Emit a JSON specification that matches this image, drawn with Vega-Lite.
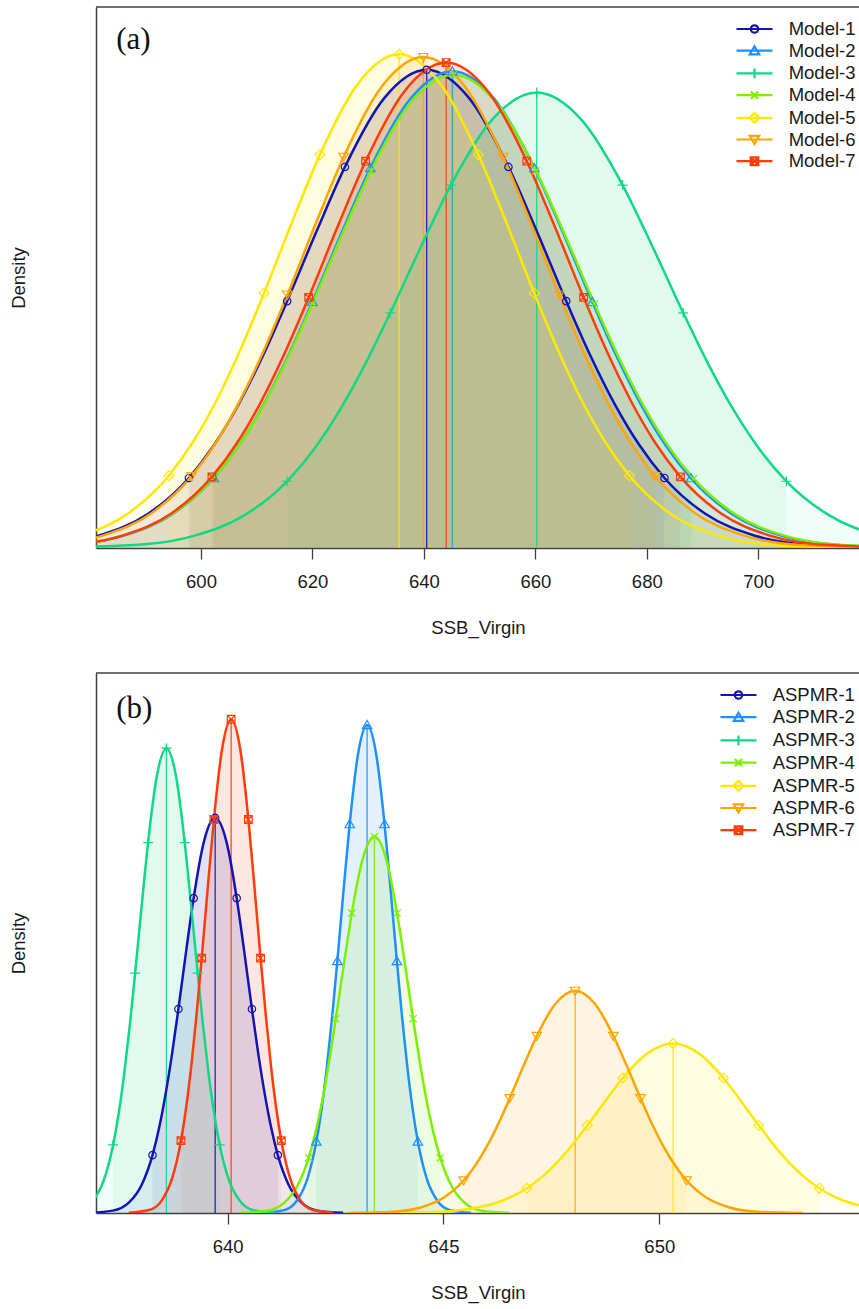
{
"$schema": "https://vega.github.io/schema/vega-lite/v6.json",
"padding": {"left": 9, "top": 6, "right": 0, "bottom": 5},
"config": {
  "view": {"stroke": null},
  "font": "Liberation Sans",
  "axis": {"labelFont": "Liberation Sans", "titleFont": "Liberation Sans", "labelFontSize": 18.5, "titleFontSize": 18.5, "titleFontWeight": "normal", "labelColor": "#1a1a1a", "titleColor": "#1a1a1a", "domainColor": "#404040", "domainWidth": 1.5, "tickColor": "#404040", "tickWidth": 1.3, "grid": false}
},
"datasets": {
"a": [
{"s":"Model-1","z":-4,"x":553.42,"y":0.0000061},{"s":"Model-1","z":-3.2,"x":570.84,"y":0.0001095},{"s":"Model-1","z":-2.7,"x":581.72,"y":0.000479},{"s":"Model-1","z":-2.3,"x":590.43,"y":0.001301},{"s":"Model-1","z":-1.96,"x":597.83,"y":0.002684},{"s":"Model-1","z":-1.75,"x":602.40,"y":0.003963},{"s":"Model-1","z":-1.55,"x":606.76,"y":0.005513},{"s":"Model-1","z":-1.35,"x":611.11,"y":0.007367},{"s":"Model-1","z":-1.15,"x":615.46,"y":0.009459},{"s":"Model-1","z":-0.9,"x":620.91,"y":0.012222},{"s":"Model-1","z":-0.674,"x":625.83,"y":0.014601},{"s":"Model-1","z":-0.35,"x":632.88,"y":0.017236},{"s":"Model-1","z":0,"x":640.5,"y":0.018325},{"s":"Model-1","z":0.35,"x":648.12,"y":0.017236},{"s":"Model-1","z":0.674,"x":655.17,"y":0.014601},{"s":"Model-1","z":0.9,"x":660.09,"y":0.012222},{"s":"Model-1","z":1.15,"x":665.54,"y":0.009459},{"s":"Model-1","z":1.35,"x":669.89,"y":0.007367},{"s":"Model-1","z":1.55,"x":674.24,"y":0.005513},{"s":"Model-1","z":1.75,"x":678.60,"y":0.003963},{"s":"Model-1","z":1.96,"x":683.17,"y":0.002684},{"s":"Model-1","z":2.3,"x":690.57,"y":0.001301},{"s":"Model-1","z":2.7,"x":699.28,"y":0.000479},{"s":"Model-1","z":3.2,"x":710.16,"y":0.0001095},{"s":"Model-1","z":4,"x":727.58,"y":0.0000061},
{"s":"Model-2","z":-4,"x":557.74,"y":0.0000061},{"s":"Model-2","z":-3.2,"x":575.21,"y":0.0001092},{"s":"Model-2","z":-2.7,"x":586.13,"y":0.000477},{"s":"Model-2","z":-2.3,"x":594.87,"y":0.001297},{"s":"Model-2","z":-1.96,"x":602.29,"y":0.002676},{"s":"Model-2","z":-1.75,"x":606.88,"y":0.003951},{"s":"Model-2","z":-1.55,"x":611.25,"y":0.005495},{"s":"Model-2","z":-1.35,"x":615.62,"y":0.007344},{"s":"Model-2","z":-1.15,"x":619.98,"y":0.009429},{"s":"Model-2","z":-0.9,"x":625.44,"y":0.012184},{"s":"Model-2","z":-0.674,"x":630.38,"y":0.014555},{"s":"Model-2","z":-0.35,"x":637.46,"y":0.017182},{"s":"Model-2","z":0,"x":645.1,"y":0.018267},{"s":"Model-2","z":0.35,"x":652.74,"y":0.017182},{"s":"Model-2","z":0.674,"x":659.82,"y":0.014555},{"s":"Model-2","z":0.9,"x":664.76,"y":0.012184},{"s":"Model-2","z":1.15,"x":670.22,"y":0.009429},{"s":"Model-2","z":1.35,"x":674.58,"y":0.007344},{"s":"Model-2","z":1.55,"x":678.95,"y":0.005495},{"s":"Model-2","z":1.75,"x":683.32,"y":0.003951},{"s":"Model-2","z":1.96,"x":687.91,"y":0.002676},{"s":"Model-2","z":2.3,"x":695.33,"y":0.001297},{"s":"Model-2","z":2.7,"x":704.07,"y":0.000477},{"s":"Model-2","z":3.2,"x":714.99,"y":0.0001092},{"s":"Model-2","z":4,"x":732.46,"y":0.0000061},
{"s":"Model-3","z":-4,"x":568.81,"y":0.0000059},{"s":"Model-3","z":-3.2,"x":587.10,"y":0.0001043},{"s":"Model-3","z":-2.7,"x":598.53,"y":0.000456},{"s":"Model-3","z":-2.3,"x":607.67,"y":0.001239},{"s":"Model-3","z":-1.96,"x":615.44,"y":0.002557},{"s":"Model-3","z":-1.75,"x":620.24,"y":0.003774},{"s":"Model-3","z":-1.55,"x":624.82,"y":0.005250},{"s":"Model-3","z":-1.35,"x":629.39,"y":0.007016},{"s":"Model-3","z":-1.15,"x":633.96,"y":0.009009},{"s":"Model-3","z":-0.9,"x":639.68,"y":0.011640},{"s":"Model-3","z":-0.674,"x":644.84,"y":0.013906},{"s":"Model-3","z":-0.35,"x":652.25,"y":0.016415},{"s":"Model-3","z":0,"x":660.25,"y":0.017452},{"s":"Model-3","z":0.35,"x":668.25,"y":0.016415},{"s":"Model-3","z":0.674,"x":675.66,"y":0.013906},{"s":"Model-3","z":0.9,"x":680.82,"y":0.011640},{"s":"Model-3","z":1.15,"x":686.54,"y":0.009009},{"s":"Model-3","z":1.35,"x":691.11,"y":0.007016},{"s":"Model-3","z":1.55,"x":695.68,"y":0.005250},{"s":"Model-3","z":1.75,"x":700.26,"y":0.003774},{"s":"Model-3","z":1.96,"x":705.06,"y":0.002557},{"s":"Model-3","z":2.3,"x":712.83,"y":0.001239},{"s":"Model-3","z":2.7,"x":721.97,"y":0.000456},{"s":"Model-3","z":3.2,"x":733.40,"y":0.0001043},{"s":"Model-3","z":4,"x":751.69,"y":0.0000059},
{"s":"Model-4","z":-4,"x":557.3,"y":0.0000061},{"s":"Model-4","z":-3.2,"x":574.9,"y":0.0001084},{"s":"Model-4","z":-2.7,"x":585.9,"y":0.000474},{"s":"Model-4","z":-2.3,"x":594.7,"y":0.001288},{"s":"Model-4","z":-1.96,"x":602.18,"y":0.002656},{"s":"Model-4","z":-1.75,"x":606.8,"y":0.003922},{"s":"Model-4","z":-1.55,"x":611.2,"y":0.005455},{"s":"Model-4","z":-1.35,"x":615.6,"y":0.007290},{"s":"Model-4","z":-1.15,"x":620.0,"y":0.009361},{"s":"Model-4","z":-0.9,"x":625.5,"y":0.012095},{"s":"Model-4","z":-0.674,"x":630.47,"y":0.014449},{"s":"Model-4","z":-0.35,"x":637.6,"y":0.017057},{"s":"Model-4","z":0,"x":645.3,"y":0.018134},{"s":"Model-4","z":0.35,"x":653.0,"y":0.017057},{"s":"Model-4","z":0.674,"x":660.13,"y":0.014449},{"s":"Model-4","z":0.9,"x":665.1,"y":0.012095},{"s":"Model-4","z":1.15,"x":670.6,"y":0.009361},{"s":"Model-4","z":1.35,"x":675.0,"y":0.007290},{"s":"Model-4","z":1.55,"x":679.4,"y":0.005455},{"s":"Model-4","z":1.75,"x":683.8,"y":0.003922},{"s":"Model-4","z":1.96,"x":688.42,"y":0.002656},{"s":"Model-4","z":2.3,"x":695.9,"y":0.001288},{"s":"Model-4","z":2.7,"x":704.7,"y":0.000474},{"s":"Model-4","z":3.2,"x":715.7,"y":0.0001084},{"s":"Model-4","z":4,"x":733.3,"y":0.0000061},
{"s":"Model-5","z":-4,"x":551.19,"y":0.0000063},{"s":"Model-5","z":-3.2,"x":568.06,"y":0.0001130},{"s":"Model-5","z":-2.7,"x":578.61,"y":0.000494},{"s":"Model-5","z":-2.3,"x":587.04,"y":0.001343},{"s":"Model-5","z":-1.96,"x":594.21,"y":0.002771},{"s":"Model-5","z":-1.75,"x":598.64,"y":0.004091},{"s":"Model-5","z":-1.55,"x":602.86,"y":0.005690},{"s":"Model-5","z":-1.35,"x":607.08,"y":0.007605},{"s":"Model-5","z":-1.15,"x":611.30,"y":0.009765},{"s":"Model-5","z":-0.9,"x":616.57,"y":0.012617},{"s":"Model-5","z":-0.674,"x":621.34,"y":0.015072},{"s":"Model-5","z":-0.35,"x":628.17,"y":0.017792},{"s":"Model-5","z":0,"x":635.55,"y":0.018916},{"s":"Model-5","z":0.35,"x":642.93,"y":0.017792},{"s":"Model-5","z":0.674,"x":649.76,"y":0.015072},{"s":"Model-5","z":0.9,"x":654.53,"y":0.012617},{"s":"Model-5","z":1.15,"x":659.80,"y":0.009765},{"s":"Model-5","z":1.35,"x":664.02,"y":0.007605},{"s":"Model-5","z":1.55,"x":668.24,"y":0.005690},{"s":"Model-5","z":1.75,"x":672.46,"y":0.004091},{"s":"Model-5","z":1.96,"x":676.89,"y":0.002771},{"s":"Model-5","z":2.3,"x":684.06,"y":0.001343},{"s":"Model-5","z":2.7,"x":692.49,"y":0.000494},{"s":"Model-5","z":3.2,"x":703.04,"y":0.0001130},{"s":"Model-5","z":4,"x":719.91,"y":0.0000063},
{"s":"Model-6","z":-4,"x":555.06,"y":0.0000063},{"s":"Model-6","z":-3.2,"x":572.03,"y":0.0001124},{"s":"Model-6","z":-2.7,"x":582.63,"y":0.000491},{"s":"Model-6","z":-2.3,"x":591.12,"y":0.001335},{"s":"Model-6","z":-1.96,"x":598.33,"y":0.002755},{"s":"Model-6","z":-1.75,"x":602.78,"y":0.004068},{"s":"Model-6","z":-1.55,"x":607.02,"y":0.005658},{"s":"Model-6","z":-1.35,"x":611.27,"y":0.007562},{"s":"Model-6","z":-1.15,"x":615.51,"y":0.009709},{"s":"Model-6","z":-0.9,"x":620.81,"y":0.012545},{"s":"Model-6","z":-0.674,"x":625.60,"y":0.014987},{"s":"Model-6","z":-0.35,"x":632.48,"y":0.017692},{"s":"Model-6","z":0,"x":639.9,"y":0.018809},{"s":"Model-6","z":0.35,"x":647.32,"y":0.017692},{"s":"Model-6","z":0.674,"x":654.20,"y":0.014987},{"s":"Model-6","z":0.9,"x":658.99,"y":0.012545},{"s":"Model-6","z":1.15,"x":664.29,"y":0.009709},{"s":"Model-6","z":1.35,"x":668.53,"y":0.007562},{"s":"Model-6","z":1.55,"x":672.78,"y":0.005658},{"s":"Model-6","z":1.75,"x":677.02,"y":0.004068},{"s":"Model-6","z":1.96,"x":681.47,"y":0.002755},{"s":"Model-6","z":2.3,"x":688.68,"y":0.001335},{"s":"Model-6","z":2.7,"x":697.17,"y":0.000491},{"s":"Model-6","z":3.2,"x":707.77,"y":0.0001124},{"s":"Model-6","z":4,"x":724.74,"y":0.0000063},
{"s":"Model-7","z":-4,"x":558.2,"y":0.0000062},{"s":"Model-7","z":-3.2,"x":575.36,"y":0.0001111},{"s":"Model-7","z":-2.7,"x":586.08,"y":0.000486},{"s":"Model-7","z":-2.3,"x":594.66,"y":0.001321},{"s":"Model-7","z":-1.96,"x":601.96,"y":0.002725},{"s":"Model-7","z":-1.75,"x":606.46,"y":0.004022},{"s":"Model-7","z":-1.55,"x":610.75,"y":0.005595},{"s":"Model-7","z":-1.35,"x":615.04,"y":0.007477},{"s":"Model-7","z":-1.15,"x":619.33,"y":0.009601},{"s":"Model-7","z":-0.9,"x":624.69,"y":0.012405},{"s":"Model-7","z":-0.674,"x":629.54,"y":0.014820},{"s":"Model-7","z":-0.35,"x":636.49,"y":0.017494},{"s":"Model-7","z":0,"x":644.0,"y":0.018599},{"s":"Model-7","z":0.35,"x":651.51,"y":0.017494},{"s":"Model-7","z":0.674,"x":658.46,"y":0.014820},{"s":"Model-7","z":0.9,"x":663.31,"y":0.012405},{"s":"Model-7","z":1.15,"x":668.67,"y":0.009601},{"s":"Model-7","z":1.35,"x":672.96,"y":0.007477},{"s":"Model-7","z":1.55,"x":677.25,"y":0.005595},{"s":"Model-7","z":1.75,"x":681.54,"y":0.004022},{"s":"Model-7","z":1.96,"x":686.04,"y":0.002725},{"s":"Model-7","z":2.3,"x":693.34,"y":0.001321},{"s":"Model-7","z":2.7,"x":701.92,"y":0.000486},{"s":"Model-7","z":3.2,"x":712.64,"y":0.0001111},{"s":"Model-7","z":4,"x":729.8,"y":0.0000062}
],
"b": [
{"s":"ASPMR-1","z":-4,"x":636.746,"y":0.00018},{"s":"ASPMR-1","z":-3.2,"x":637.339,"y":0.003217},{"s":"ASPMR-1","z":-2.7,"x":637.709,"y":0.01406},{"s":"ASPMR-1","z":-2.3,"x":638.006,"y":0.03822},{"s":"ASPMR-1","z":-1.96,"x":638.258,"y":0.07887},{"s":"ASPMR-1","z":-1.75,"x":638.413,"y":0.11644},{"s":"ASPMR-1","z":-1.55,"x":638.561,"y":0.16195},{"s":"ASPMR-1","z":-1.35,"x":638.710,"y":0.21644},{"s":"ASPMR-1","z":-1.15,"x":638.858,"y":0.27791},{"s":"ASPMR-1","z":-0.9,"x":639.043,"y":0.35909},{"s":"ASPMR-1","z":-0.674,"x":639.211,"y":0.42898},{"s":"ASPMR-1","z":-0.35,"x":639.451,"y":0.50639},{"s":"ASPMR-1","z":0,"x":639.71,"y":0.53838},{"s":"ASPMR-1","z":0.35,"x":639.969,"y":0.50639},{"s":"ASPMR-1","z":0.674,"x":640.209,"y":0.42898},{"s":"ASPMR-1","z":0.9,"x":640.377,"y":0.35909},{"s":"ASPMR-1","z":1.15,"x":640.562,"y":0.27791},{"s":"ASPMR-1","z":1.35,"x":640.710,"y":0.21644},{"s":"ASPMR-1","z":1.55,"x":640.859,"y":0.16195},{"s":"ASPMR-1","z":1.75,"x":641.007,"y":0.11644},{"s":"ASPMR-1","z":1.96,"x":641.162,"y":0.07887},{"s":"ASPMR-1","z":2.3,"x":641.414,"y":0.03822},{"s":"ASPMR-1","z":2.7,"x":641.711,"y":0.01406},{"s":"ASPMR-1","z":3.2,"x":642.081,"y":0.003217},{"s":"ASPMR-1","z":4,"x":642.674,"y":0.00018},
{"s":"ASPMR-2","z":-4,"x":640.83,"y":0.000223},{"s":"ASPMR-2","z":-3.2,"x":641.31,"y":0.003973},{"s":"ASPMR-2","z":-2.7,"x":641.61,"y":0.01737},{"s":"ASPMR-2","z":-2.3,"x":641.85,"y":0.04721},{"s":"ASPMR-2","z":-1.96,"x":642.054,"y":0.0974},{"s":"ASPMR-2","z":-1.75,"x":642.18,"y":0.1438},{"s":"ASPMR-2","z":-1.55,"x":642.30,"y":0.20001},{"s":"ASPMR-2","z":-1.35,"x":642.42,"y":0.2673},{"s":"ASPMR-2","z":-1.15,"x":642.54,"y":0.34322},{"s":"ASPMR-2","z":-0.9,"x":642.69,"y":0.44347},{"s":"ASPMR-2","z":-0.674,"x":642.826,"y":0.52979},{"s":"ASPMR-2","z":-0.35,"x":643.02,"y":0.6254},{"s":"ASPMR-2","z":0,"x":643.23,"y":0.6649},{"s":"ASPMR-2","z":0.35,"x":643.44,"y":0.6254},{"s":"ASPMR-2","z":0.674,"x":643.634,"y":0.52979},{"s":"ASPMR-2","z":0.9,"x":643.77,"y":0.44347},{"s":"ASPMR-2","z":1.15,"x":643.92,"y":0.34322},{"s":"ASPMR-2","z":1.35,"x":644.04,"y":0.2673},{"s":"ASPMR-2","z":1.55,"x":644.16,"y":0.20001},{"s":"ASPMR-2","z":1.75,"x":644.28,"y":0.1438},{"s":"ASPMR-2","z":1.96,"x":644.406,"y":0.0974},{"s":"ASPMR-2","z":2.3,"x":644.61,"y":0.04721},{"s":"ASPMR-2","z":2.7,"x":644.85,"y":0.01737},{"s":"ASPMR-2","z":3.2,"x":645.15,"y":0.003973},{"s":"ASPMR-2","z":4,"x":645.63,"y":0.000223},
{"s":"ASPMR-3","z":-4,"x":636.06,"y":0.000212},{"s":"ASPMR-3","z":-3.2,"x":636.564,"y":0.003784},{"s":"ASPMR-3","z":-2.7,"x":636.879,"y":0.01654},{"s":"ASPMR-3","z":-2.3,"x":637.131,"y":0.04496},{"s":"ASPMR-3","z":-1.96,"x":637.345,"y":0.09276},{"s":"ASPMR-3","z":-1.75,"x":637.478,"y":0.13695},{"s":"ASPMR-3","z":-1.55,"x":637.604,"y":0.19049},{"s":"ASPMR-3","z":-1.35,"x":637.730,"y":0.25457},{"s":"ASPMR-3","z":-1.15,"x":637.856,"y":0.32688},{"s":"ASPMR-3","z":-0.9,"x":638.013,"y":0.42236},{"s":"ASPMR-3","z":-0.674,"x":638.155,"y":0.50456},{"s":"ASPMR-3","z":-0.35,"x":638.360,"y":0.59562},{"s":"ASPMR-3","z":0,"x":638.58,"y":0.63324},{"s":"ASPMR-3","z":0.35,"x":638.801,"y":0.59562},{"s":"ASPMR-3","z":0.674,"x":639.005,"y":0.50456},{"s":"ASPMR-3","z":0.9,"x":639.147,"y":0.42236},{"s":"ASPMR-3","z":1.15,"x":639.305,"y":0.32688},{"s":"ASPMR-3","z":1.35,"x":639.431,"y":0.25457},{"s":"ASPMR-3","z":1.55,"x":639.557,"y":0.19049},{"s":"ASPMR-3","z":1.75,"x":639.683,"y":0.13695},{"s":"ASPMR-3","z":1.96,"x":639.815,"y":0.09276},{"s":"ASPMR-3","z":2.3,"x":640.029,"y":0.04496},{"s":"ASPMR-3","z":2.7,"x":640.281,"y":0.01654},{"s":"ASPMR-3","z":3.2,"x":640.596,"y":0.003784},{"s":"ASPMR-3","z":4,"x":641.10,"y":0.000212},
{"s":"ASPMR-4","z":-4,"x":640.288,"y":0.000172},{"s":"ASPMR-4","z":-3.2,"x":640.910,"y":0.003064},{"s":"ASPMR-4","z":-2.7,"x":641.299,"y":0.01339},{"s":"ASPMR-4","z":-2.3,"x":641.611,"y":0.03641},{"s":"ASPMR-4","z":-1.96,"x":641.875,"y":0.07512},{"s":"ASPMR-4","z":-1.75,"x":642.039,"y":0.1109},{"s":"ASPMR-4","z":-1.55,"x":642.194,"y":0.15425},{"s":"ASPMR-4","z":-1.35,"x":642.350,"y":0.20615},{"s":"ASPMR-4","z":-1.15,"x":642.505,"y":0.2647},{"s":"ASPMR-4","z":-0.9,"x":642.700,"y":0.34201},{"s":"ASPMR-4","z":-0.674,"x":642.876,"y":0.40858},{"s":"ASPMR-4","z":-0.35,"x":643.128,"y":0.48232},{"s":"ASPMR-4","z":0,"x":643.40,"y":0.51278},{"s":"ASPMR-4","z":0.35,"x":643.672,"y":0.48232},{"s":"ASPMR-4","z":0.674,"x":643.924,"y":0.40858},{"s":"ASPMR-4","z":0.9,"x":644.100,"y":0.34201},{"s":"ASPMR-4","z":1.15,"x":644.295,"y":0.2647},{"s":"ASPMR-4","z":1.35,"x":644.450,"y":0.20615},{"s":"ASPMR-4","z":1.55,"x":644.606,"y":0.15425},{"s":"ASPMR-4","z":1.75,"x":644.762,"y":0.1109},{"s":"ASPMR-4","z":1.96,"x":644.925,"y":0.07512},{"s":"ASPMR-4","z":2.3,"x":645.189,"y":0.03641},{"s":"ASPMR-4","z":2.7,"x":645.501,"y":0.01339},{"s":"ASPMR-4","z":3.2,"x":645.890,"y":0.003064},{"s":"ASPMR-4","z":4,"x":646.512,"y":0.000172},
{"s":"ASPMR-5","z":-4,"x":643.408,"y":0.0000774},{"s":"ASPMR-5","z":-3.2,"x":644.790,"y":0.00138},{"s":"ASPMR-5","z":-2.7,"x":645.654,"y":0.00603},{"s":"ASPMR-5","z":-2.3,"x":646.346,"y":0.01639},{"s":"ASPMR-5","z":-1.96,"x":646.933,"y":0.03382},{"s":"ASPMR-5","z":-1.75,"x":647.296,"y":0.04993},{"s":"ASPMR-5","z":-1.55,"x":647.642,"y":0.06945},{"s":"ASPMR-5","z":-1.35,"x":647.987,"y":0.09281},{"s":"ASPMR-5","z":-1.15,"x":648.333,"y":0.11918},{"s":"ASPMR-5","z":-0.9,"x":648.765,"y":0.15399},{"s":"ASPMR-5","z":-0.674,"x":649.155,"y":0.18396},{"s":"ASPMR-5","z":-0.35,"x":649.715,"y":0.21715},{"s":"ASPMR-5","z":0,"x":650.32,"y":0.23087},{"s":"ASPMR-5","z":0.35,"x":650.925,"y":0.21715},{"s":"ASPMR-5","z":0.674,"x":651.485,"y":0.18396},{"s":"ASPMR-5","z":0.9,"x":651.875,"y":0.15399},{"s":"ASPMR-5","z":1.15,"x":652.307,"y":0.11918},{"s":"ASPMR-5","z":1.35,"x":652.653,"y":0.09281},{"s":"ASPMR-5","z":1.55,"x":652.998,"y":0.06945},{"s":"ASPMR-5","z":1.75,"x":653.344,"y":0.04993},{"s":"ASPMR-5","z":1.96,"x":653.707,"y":0.03382},{"s":"ASPMR-5","z":2.3,"x":654.294,"y":0.01639},{"s":"ASPMR-5","z":2.7,"x":654.986,"y":0.00603},{"s":"ASPMR-5","z":3.2,"x":655.850,"y":0.00138},{"s":"ASPMR-5","z":4,"x":657.232,"y":0.0000774},
{"s":"ASPMR-6","z":-4,"x":642.778,"y":0.000101},{"s":"ASPMR-6","z":-3.2,"x":643.832,"y":0.00181},{"s":"ASPMR-6","z":-2.7,"x":644.491,"y":0.00791},{"s":"ASPMR-6","z":-2.3,"x":645.019,"y":0.02149},{"s":"ASPMR-6","z":-1.96,"x":645.467,"y":0.04434},{"s":"ASPMR-6","z":-1.75,"x":645.744,"y":0.06546},{"s":"ASPMR-6","z":-1.55,"x":646.007,"y":0.09105},{"s":"ASPMR-6","z":-1.35,"x":646.271,"y":0.12169},{"s":"ASPMR-6","z":-1.15,"x":646.534,"y":0.15625},{"s":"ASPMR-6","z":-0.9,"x":646.864,"y":0.20189},{"s":"ASPMR-6","z":-0.674,"x":647.162,"y":0.24118},{"s":"ASPMR-6","z":-0.35,"x":647.589,"y":0.28471},{"s":"ASPMR-6","z":0,"x":648.05,"y":0.30269},{"s":"ASPMR-6","z":0.35,"x":648.511,"y":0.28471},{"s":"ASPMR-6","z":0.674,"x":648.938,"y":0.24118},{"s":"ASPMR-6","z":0.9,"x":649.236,"y":0.20189},{"s":"ASPMR-6","z":1.15,"x":649.566,"y":0.15625},{"s":"ASPMR-6","z":1.35,"x":649.829,"y":0.12169},{"s":"ASPMR-6","z":1.55,"x":650.093,"y":0.09105},{"s":"ASPMR-6","z":1.75,"x":650.357,"y":0.06546},{"s":"ASPMR-6","z":1.96,"x":650.633,"y":0.04434},{"s":"ASPMR-6","z":2.3,"x":651.081,"y":0.02149},{"s":"ASPMR-6","z":2.7,"x":651.609,"y":0.00791},{"s":"ASPMR-6","z":3.2,"x":652.268,"y":0.00181},{"s":"ASPMR-6","z":4,"x":653.322,"y":0.000101},
{"s":"ASPMR-7","z":-4,"x":637.708,"y":0.000225},{"s":"ASPMR-7","z":-3.2,"x":638.182,"y":0.00402},{"s":"ASPMR-7","z":-2.7,"x":638.479,"y":0.01757},{"s":"ASPMR-7","z":-2.3,"x":638.716,"y":0.04777},{"s":"ASPMR-7","z":-1.96,"x":638.918,"y":0.09855},{"s":"ASPMR-7","z":-1.75,"x":639.042,"y":0.14549},{"s":"ASPMR-7","z":-1.55,"x":639.161,"y":0.20238},{"s":"ASPMR-7","z":-1.35,"x":639.279,"y":0.27046},{"s":"ASPMR-7","z":-1.15,"x":639.398,"y":0.34727},{"s":"ASPMR-7","z":-0.9,"x":639.546,"y":0.44871},{"s":"ASPMR-7","z":-0.674,"x":639.680,"y":0.53604},{"s":"ASPMR-7","z":-0.35,"x":639.872,"y":0.63278},{"s":"ASPMR-7","z":0,"x":640.08,"y":0.67275},{"s":"ASPMR-7","z":0.35,"x":640.288,"y":0.63278},{"s":"ASPMR-7","z":0.674,"x":640.480,"y":0.53604},{"s":"ASPMR-7","z":0.9,"x":640.614,"y":0.44871},{"s":"ASPMR-7","z":1.15,"x":640.762,"y":0.34727},{"s":"ASPMR-7","z":1.35,"x":640.881,"y":0.27046},{"s":"ASPMR-7","z":1.55,"x":640.999,"y":0.20238},{"s":"ASPMR-7","z":1.75,"x":641.118,"y":0.14549},{"s":"ASPMR-7","z":1.96,"x":641.242,"y":0.09855},{"s":"ASPMR-7","z":2.3,"x":641.444,"y":0.04777},{"s":"ASPMR-7","z":2.7,"x":641.681,"y":0.01757},{"s":"ASPMR-7","z":3.2,"x":641.978,"y":0.00402},{"s":"ASPMR-7","z":4,"x":642.452,"y":0.000225}
]
},
"resolve": {"scale": {"color": "independent", "fill": "independent", "stroke": "independent", "shape": "independent", "x": "independent", "y": "independent"}, "legend": {"color": "independent", "shape": "independent"}},
"spacing": 35,
"vconcat": [
{
  "width": 764, "height": 541,
  "resolve": {"scale": {"color": "independent", "shape": "independent"}, "legend": {"color": "independent", "shape": "independent"}},
  "layer": [
    {"data": {"name": "a"}, "transform": [{"filter": "datum.z == 0"}],
     "mark": {"type": "point", "filled": false, "opacity": 0, "size": 81},
     "encoding": {
       "x": {"field": "x", "type": "quantitative", "scale": {"domain": [581.157, 718.26], "nice": false, "zero": false},
             "axis": {"values": [600, 620, 640, 660, 680, 700], "title": "SSB_Virgin", "tickSize": 11, "labelPadding": 13, "titlePadding": 28, "labelFlush": false}},
       "y": {"field": "y", "type": "quantitative", "scale": {"domain": [0, 0.020728], "nice": false},
             "axis": {"title": "Density", "labels": false, "ticks": false, "titlePadding": 68}},
       "color": {"field": "s", "type": "nominal",
                 "scale": {"domain": ["Model-1","Model-2","Model-3","Model-4","Model-5","Model-6","Model-7"], "range": ["#1414b4","#1e90ff","#10d884","#7cf000","#ffe800","#ffa500","#ff3c0a"]},
                 "legend": {"title": null, "orient": "none", "legendX": 649.25, "legendY": 12.75, "padding": 0, "labelFontSize": 18.5, "labelFont": "Liberation Sans", "labelColor": "#1a1a1a", "symbolSize": 81, "labelOffset": 24.9, "rowPadding": 2.7, "symbolStrokeWidth": 2.2, "symbolOpacity": 1, "symbolFillColor": "transparent",
                   "encode": {"symbols": {"fill": {"value": "transparent"}, "opacity": {"value": 1}, "strokeWidth": {"value": 2.2}}}}},
       "shape": {"field": "s", "type": "nominal",
                 "scale": {"domain": ["Model-1","Model-2","Model-3","Model-4","Model-5","Model-6","Model-7"],
                           "range": ["M-4,0H4M-0.82,0A0.82,0.82 0 1,1 0.82,0A0.82,0.82 0 1,1 -0.82,0Z","M-4,0H4M0,-1L1.05,0.8L-1.05,0.8Z","M-4,0H4M0,-1.1V1.1","M-4,0H4M-0.8,-0.8L0.8,0.8M-0.8,0.8L0.8,-0.8","M-4,0H4M0,-1.1L1.1,0L0,1.1L-1.1,0Z","M-4,0H4M0,1L1.05,-0.8L-1.05,-0.8Z","M-4,0H4M-0.85,-0.85H0.85V0.85H-0.85ZM-0.85,-0.85L0.85,0.85M-0.85,0.85L0.85,-0.85"]},
                 "legend": {"title": null, "orient": "none", "legendX": 649.25, "legendY": 12.75, "padding": 0, "labelFontSize": 18.5, "labelFont": "Liberation Sans", "labelColor": "#1a1a1a", "symbolSize": 81, "labelOffset": 24.9, "rowPadding": 2.7, "symbolStrokeWidth": 2.2, "symbolOpacity": 1, "symbolFillColor": "transparent"}}
     }},
    {"data": {"name": "a"},
     "mark": {"type": "area", "opacity": 0.06, "interpolate": "monotone", "clip": true},
     "encoding": {"x": {"field": "x", "type": "quantitative"}, "y": {"field": "y", "type": "quantitative", "stack": null},
       "fill": {"field": "s", "type": "nominal", "legend": null, "scale": {"range": ["#1414b4","#1e90ff","#10d884","#7cf000","#ffe800","#ffa500","#ff3c0a"]}}}},
    {"data": {"name": "a"}, "transform": [{"filter": "abs(datum.z) <= 1.96"}],
     "mark": {"type": "area", "opacity": 0.065, "interpolate": "monotone", "clip": true},
     "encoding": {"x": {"field": "x", "type": "quantitative"}, "y": {"field": "y", "type": "quantitative", "stack": null}, "fill": {"field": "s", "type": "nominal", "legend": null}}},
    {"data": {"name": "a"}, "transform": [{"filter": "datum.z == 0"}],
     "mark": {"type": "rule", "strokeWidth": 1.3, "opacity": 0.9, "clip": true},
     "encoding": {"x": {"field": "x", "type": "quantitative"}, "y": {"field": "y", "type": "quantitative"}, "y2": {"datum": 0},
       "stroke": {"field": "s", "type": "nominal", "legend": null, "scale": {"range": ["#1414b4","#1e90ff","#10d884","#7cf000","#ffe800","#ffa500","#ff3c0a"]}}}},
    {"data": {"name": "a"},
     "mark": {"type": "line", "strokeWidth": 2.5, "interpolate": "monotone", "clip": true},
     "encoding": {"x": {"field": "x", "type": "quantitative"}, "y": {"field": "y", "type": "quantitative"}, "stroke": {"field": "s", "type": "nominal", "legend": null}}},
    {"data": {"name": "a"}, "transform": [{"filter": "indexof([-1.96,-1.15,-0.674,0,0.674,1.15,1.96], datum.z) >= 0"}],
     "mark": {"type": "point", "filled": false, "size": 81, "strokeWidth": 1.2, "opacity": 1, "clip": true},
     "encoding": {
       "x": {"field": "x", "type": "quantitative"}, "y": {"field": "y", "type": "quantitative"},
       "shape": {"field": "s", "type": "nominal", "legend": null,
                 "scale": {"range": ["M-0.82,0A0.82,0.82 0 1,1 0.82,0A0.82,0.82 0 1,1 -0.82,0Z","M0,-1L1.05,0.8L-1.05,0.8Z","M-1.1,0H1.1M0,-1.1V1.1","M-0.8,-0.8L0.8,0.8M-0.8,0.8L0.8,-0.8","M0,-1.1L1.1,0L0,1.1L-1.1,0Z","M0,1L1.05,-0.8L-1.05,-0.8Z","M-0.85,-0.85H0.85V0.85H-0.85ZM-0.85,-0.85L0.85,0.85M-0.85,0.85L0.85,-0.85"]}},
       "stroke": {"field": "s", "type": "nominal", "legend": null}
     }},
    {"data": {"values": [{}]}, "mark": {"type": "rule", "color": "#404040", "strokeWidth": 1.5},
     "encoding": {"y": {"datum": 0.020728, "type": "quantitative"}}},
    {"data": {"values": [{}]}, "mark": {"type": "text", "text": "(a)", "font": "Liberation Serif", "fontSize": 31, "align": "left", "baseline": "alphabetic", "color": "#111111"},
     "encoding": {"x": {"datum": 584.78, "type": "quantitative"}, "y": {"datum": 0.019111, "type": "quantitative"}}}
  ]
},
{
  "width": 764, "height": 540,
  "resolve": {"scale": {"color": "independent", "shape": "independent"}, "legend": {"color": "independent", "shape": "independent"}},
  "layer": [
    {"data": {"name": "b"}, "transform": [{"filter": "datum.z == 0"}],
     "mark": {"type": "point", "filled": false, "opacity": 0, "size": 81},
     "encoding": {
       "x": {"field": "x", "type": "quantitative", "scale": {"domain": [636.949, 654.65], "nice": false, "zero": false},
             "axis": {"values": [640, 645, 650], "title": "SSB_Virgin", "tickSize": 11, "labelPadding": 13, "titlePadding": 28, "labelFlush": false}},
       "y": {"field": "y", "type": "quantitative", "scale": {"domain": [0, 0.7357], "nice": false},
             "axis": {"title": "Density", "labels": false, "ticks": false, "titlePadding": 68}},
       "color": {"field": "s", "type": "nominal",
                 "scale": {"domain": ["ASPMR-1","ASPMR-2","ASPMR-3","ASPMR-4","ASPMR-5","ASPMR-6","ASPMR-7"], "range": ["#1414b4","#1e90ff","#10d884","#7cf000","#ffe800","#ffa500","#ff3c0a"]},
                 "legend": {"title": null, "orient": "none", "legendX": 633.25, "legendY": 12.75, "padding": 0, "labelFontSize": 18.5, "labelFont": "Liberation Sans", "labelColor": "#1a1a1a", "symbolSize": 81, "labelOffset": 24.9, "rowPadding": 3.2, "symbolStrokeWidth": 2.2, "symbolOpacity": 1, "symbolFillColor": "transparent",
                   "encode": {"symbols": {"fill": {"value": "transparent"}, "opacity": {"value": 1}, "strokeWidth": {"value": 2.2}}}}},
       "shape": {"field": "s", "type": "nominal",
                 "scale": {"domain": ["ASPMR-1","ASPMR-2","ASPMR-3","ASPMR-4","ASPMR-5","ASPMR-6","ASPMR-7"],
                           "range": ["M-4,0H4M-0.82,0A0.82,0.82 0 1,1 0.82,0A0.82,0.82 0 1,1 -0.82,0Z","M-4,0H4M0,-1L1.05,0.8L-1.05,0.8Z","M-4,0H4M0,-1.1V1.1","M-4,0H4M-0.8,-0.8L0.8,0.8M-0.8,0.8L0.8,-0.8","M-4,0H4M0,-1.1L1.1,0L0,1.1L-1.1,0Z","M-4,0H4M0,1L1.05,-0.8L-1.05,-0.8Z","M-4,0H4M-0.85,-0.85H0.85V0.85H-0.85ZM-0.85,-0.85L0.85,0.85M-0.85,0.85L0.85,-0.85"]},
                 "legend": {"title": null, "orient": "none", "legendX": 633.25, "legendY": 12.75, "padding": 0, "labelFontSize": 18.5, "labelFont": "Liberation Sans", "labelColor": "#1a1a1a", "symbolSize": 81, "labelOffset": 24.9, "rowPadding": 3.2, "symbolStrokeWidth": 2.2, "symbolOpacity": 1, "symbolFillColor": "transparent"}}
     }},
    {"data": {"name": "b"},
     "mark": {"type": "area", "opacity": 0.06, "interpolate": "monotone", "clip": true},
     "encoding": {"x": {"field": "x", "type": "quantitative"}, "y": {"field": "y", "type": "quantitative", "stack": null},
       "fill": {"field": "s", "type": "nominal", "legend": null, "scale": {"range": ["#1414b4","#1e90ff","#10d884","#7cf000","#ffe800","#ffa500","#ff3c0a"]}}}},
    {"data": {"name": "b"}, "transform": [{"filter": "abs(datum.z) <= 1.96"}],
     "mark": {"type": "area", "opacity": 0.065, "interpolate": "monotone", "clip": true},
     "encoding": {"x": {"field": "x", "type": "quantitative"}, "y": {"field": "y", "type": "quantitative", "stack": null}, "fill": {"field": "s", "type": "nominal", "legend": null}}},
    {"data": {"name": "b"}, "transform": [{"filter": "datum.z == 0"}],
     "mark": {"type": "rule", "strokeWidth": 1.3, "opacity": 0.9, "clip": true},
     "encoding": {"x": {"field": "x", "type": "quantitative"}, "y": {"field": "y", "type": "quantitative"}, "y2": {"datum": 0},
       "stroke": {"field": "s", "type": "nominal", "legend": null, "scale": {"range": ["#1414b4","#1e90ff","#10d884","#7cf000","#ffe800","#ffa500","#ff3c0a"]}}}},
    {"data": {"name": "b"},
     "mark": {"type": "line", "strokeWidth": 2.5, "interpolate": "monotone", "clip": true},
     "encoding": {"x": {"field": "x", "type": "quantitative"}, "y": {"field": "y", "type": "quantitative"}, "stroke": {"field": "s", "type": "nominal", "legend": null}}},
    {"data": {"name": "b"}, "transform": [{"filter": "indexof([-1.96,-1.15,-0.674,0,0.674,1.15,1.96], datum.z) >= 0"}],
     "mark": {"type": "point", "filled": false, "size": 81, "strokeWidth": 1.2, "opacity": 1, "clip": true},
     "encoding": {
       "x": {"field": "x", "type": "quantitative"}, "y": {"field": "y", "type": "quantitative"},
       "shape": {"field": "s", "type": "nominal", "legend": null,
                 "scale": {"range": ["M-0.82,0A0.82,0.82 0 1,1 0.82,0A0.82,0.82 0 1,1 -0.82,0Z","M0,-1L1.05,0.8L-1.05,0.8Z","M-1.1,0H1.1M0,-1.1V1.1","M-0.8,-0.8L0.8,0.8M-0.8,0.8L0.8,-0.8","M0,-1.1L1.1,0L0,1.1L-1.1,0Z","M0,1L1.05,-0.8L-1.05,-0.8Z","M-0.85,-0.85H0.85V0.85H-0.85ZM-0.85,-0.85L0.85,0.85M-0.85,0.85L0.85,-0.85"]}},
       "stroke": {"field": "s", "type": "nominal", "legend": null}
     }},
    {"data": {"values": [{}]}, "mark": {"type": "rule", "color": "#404040", "strokeWidth": 1.5},
     "encoding": {"y": {"datum": 0.7357, "type": "quantitative"}}},
    {"data": {"values": [{}]}, "mark": {"type": "text", "text": "(b)", "font": "Liberation Serif", "fontSize": 31, "align": "left", "baseline": "alphabetic", "color": "#111111"},
     "encoding": {"x": {"datum": 637.417, "type": "quantitative"}, "y": {"datum": 0.6743, "type": "quantitative"}}}
  ]
}
]
}
